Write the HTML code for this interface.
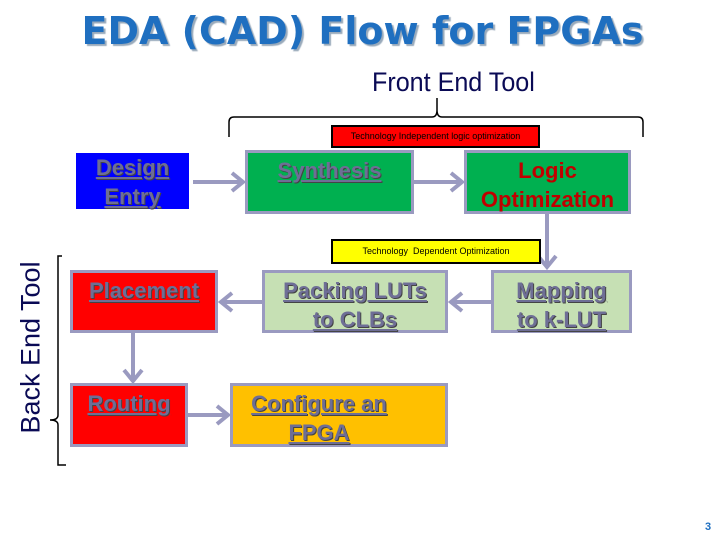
<!DOCTYPE html>
<html><head><style>
body{margin:0;width:720px;height:540px;background:#fff;position:relative;overflow:hidden;font-family:"Liberation Sans",sans-serif}
.t{position:absolute;white-space:nowrap}
.box{position:absolute;box-sizing:border-box;border:3px solid #9a9ac0;text-align:center;font-weight:bold;font-size:22px;line-height:29px;color:#6e6e96;text-decoration:underline;text-shadow:1px 1px 0 #444}
</style></head><body>
<div class="t" style="left:70px;top:9px;width:585px;text-align:center;font-family:'DejaVu Sans',sans-serif;font-weight:bold;font-size:38px;color:#1f6fc0;text-shadow:2px 2px 1px #9ab">EDA (CAD) Flow for FPGAs</div>
<div class="t" style="left:372px;top:67px;font-size:27px;color:#0a0a55;transform:scaleX(0.93);transform-origin:left">Front End Tool</div>
<svg width="720" height="540" style="position:absolute;left:0;top:0">
<path d="M229 137 V122 Q229 117 234 117 H432 Q437 117 437 110 V98 M437 110 Q437 117 442 117 H638 Q643 117 643 122 V137" fill="none" stroke="#000" stroke-width="1.5"/>
<path d="M62 256 H58 V415 Q58 420 50 420 Q58 420 58 425 V465 H66" fill="none" stroke="#000" stroke-width="1.5"/>
<g stroke="#9a9ac0" stroke-width="4" fill="none">
<line x1="193" y1="182" x2="242" y2="182"/><polyline points="232,173 243,182 232,191"/>
<line x1="414" y1="182" x2="461" y2="182"/><polyline points="451,173 462,182 451,191"/>
<line x1="547" y1="214" x2="547" y2="266"/><polyline points="538,256 547,267 556,256"/>
<line x1="491" y1="302" x2="452" y2="302"/><polyline points="462,293 451,302 462,311"/>
<line x1="262" y1="302" x2="222" y2="302"/><polyline points="232,293 221,302 232,311"/>
<line x1="133" y1="333" x2="133" y2="380"/><polyline points="124,370 133,381 142,370"/>
<line x1="188" y1="415" x2="227" y2="415"/><polyline points="217,406 228,415 217,424"/>
</g>
</svg>
<div class="t" style="left:331px;top:125px;width:209px;height:23px;box-sizing:border-box;background:#f00;border:2px solid #000;font-size:9px;line-height:19px;text-align:center">Technology Independent logic optimization</div>
<div class="t" style="left:331px;top:239px;width:210px;height:25px;box-sizing:border-box;background:#ff0;border:2px solid #000;font-size:9px;line-height:21px;text-align:center">Technology&nbsp; Dependent Optimization</div>
<div class="box" style="left:73px;top:150px;width:119px;height:62px;background:#0000ff;border-color:#fff">Design<br>Entry</div>
<div class="box" style="left:245px;top:150px;width:169px;height:64px;background:#00b050;line-height:36px"> Synthesis</div>
<div class="box" style="left:464px;top:150px;width:167px;height:64px;background:#00b050;color:#c00000;text-decoration:none;text-shadow:none;padding-top:3px">Logic<br>Optimization</div>
<div class="box" style="left:70px;top:270px;width:148px;height:63px;background:#f00;line-height:36px">Placement</div>
<div class="box" style="left:262px;top:270px;width:186px;height:63px;background:#c6e0b4;padding-top:3px">Packing LUTs<br>to CLBs</div>
<div class="box" style="left:491px;top:270px;width:141px;height:63px;background:#c6e0b4;padding-top:3px">Mapping<br>to k-LUT</div>
<div class="box" style="left:70px;top:383px;width:118px;height:64px;background:#f00;line-height:36px">Routing</div>
<div class="box" style="left:230px;top:383px;width:218px;height:64px;background:#ffc000;padding-top:3px;padding-right:40px">Configure an<br>FPGA</div>
<div class="t" style="left:-81px;top:332px;width:224px;text-align:center;font-size:27px;color:#0a0a55;transform:rotate(-90deg)">Back End Tool</div>
<div class="t" style="left:705px;top:521px;font-size:11px;font-weight:bold;color:#1f6fc0">3</div>
</body></html>
